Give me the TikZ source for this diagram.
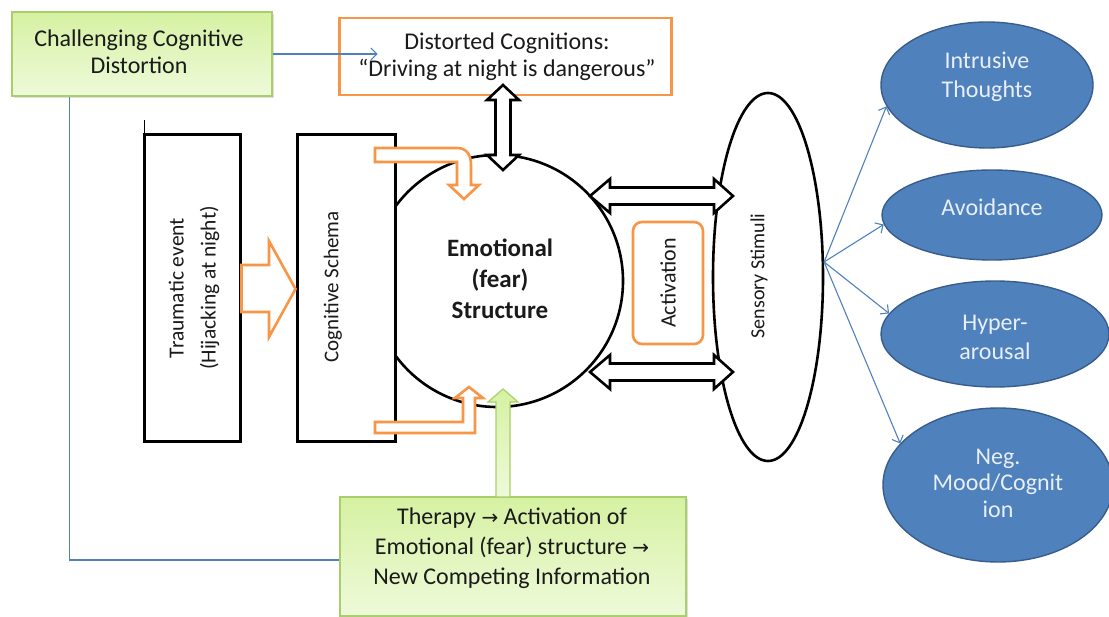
\documentclass[tikz,border=0pt]{standalone}
\usepackage{fontspec}
\setmainfont{Carlito}
\newfontfamily\djv{DejaVu Sans}
\usetikzlibrary{shapes.geometric,arrows.meta,shadows}
\definecolor{org}{HTML}{F79646}
\definecolor{bl}{HTML}{4F81BD}
\definecolor{bldark}{HTML}{385D8A}
\definecolor{gbord}{HTML}{A9CF6A}
\definecolor{gtop}{HTML}{D6F1A2}
\definecolor{gbot}{HTML}{EEFADA}
\definecolor{ink}{HTML}{1A1A1A}
\definecolor{lighttext}{HTML}{E8EFF8}
\newcommand{\rarr}{{\djv\fontsize{20}{20}\selectfont →}}
\begin{document}
\begin{tikzpicture}[x=1pt,y=-1pt,
  greenbox/.style={draw=gbord, line width=1.2pt, top color=gtop, bottom color=gbot,
    drop shadow={opacity=0.25,shadow xshift=2pt,shadow yshift=-2pt}, inner sep=0pt},
  orangebox/.style={draw=org, line width=2.8pt, fill=white, inner sep=0pt},
  blackbox/.style={draw=black, line width=3pt, fill=white, inner sep=0pt},
  txt/.style={text=ink, align=center, inner sep=0pt},
  barrow/.style={draw=black, line width=2.6pt, fill=white, line join=miter},
  oarrow/.style={draw=org, line width=2.6pt, fill=white, line join=miter},
  bline/.style={draw=bl, line width=1.1pt},
  btip/.style={-{Straight Barb[length=6pt,width=12pt]}},
  bell/.style={ellipse, draw=bldark, line width=1.4pt, fill=bl, inner sep=0pt},
  btext/.style={text=lighttext, align=center, inner sep=0pt, font=\fontsize{24}{29}\selectfont},
]
\useasboundingbox (0,0) rectangle (1109,617);

% emotional structure circle
\node[draw, circle, line width=2.6pt, fill=white, minimum size=252, inner sep=0pt] (ef) at (497,281) {};
% sensory stimuli ellipse
\node[draw, ellipse, line width=2.6pt, fill=white, minimum width=110, minimum height=368, inner sep=0pt] (ss) at (768,277) {};

% boxes
\node[greenbox, minimum width=260, minimum height=84] (ch) at (142,54) {};
\node[txt, font=\fontsize{24}{27}\selectfont] (cht) at (139,52) {Challenging Cognitive\\Distortion};

\node[orangebox, minimum width=332, minimum height=77] (dc) at (505.5,56.5) {};
\node[txt, font=\fontsize{24}{27}\selectfont] (dct) at (507,56.5) {Distorted Cognitions:\\“Driving at night is dangerous”};

\node[blackbox, minimum width=96, minimum height=307] (te) at (192,288.5) {};
\node[txt, rotate=90, font=\fontsize{21.5}{32}\selectfont] (tet) at (194,288) {Traumatic event\\(Hijacking at night)};
\draw[line width=1.6pt] ([xshift=2pt]te.north west) -- ++(0,-13);

\node[blackbox, minimum width=98, minimum height=307] (cs) at (346,288.5) {};
\node[txt, rotate=90, font=\fontsize{21}{25}\selectfont] (cst) at (333,287) {Cognitive Schema};

% therapy box
\node[greenbox, minimum width=346, minimum height=119] (th) at (513,556.5) {};
\node[txt, font=\fontsize{24}{30}\selectfont] (tht) at (512,548) {Therapy \rarr\ Activation of\\Emotional (fear) structure \rarr\\New Competing Information};

% blue connectors from the challenging box
\draw[bline, btip] (ch.east) -- ++(105,0) coordinate (chend);
\draw[bline] ([xshift=58pt]ch.south west) |- ([yshift=-3.5pt]th.west);

% traumatic -> schema orange block arrow
\draw[oarrow] (te.east |- 0,265) -- (269,265) -- (269,241) -- (cs.west |- 0,289) -- (269,337) -- (269,312) -- (te.east |- 0,312) -- cycle;

% bent orange arrows into the circle
\draw[oarrow] (375,148) -- (457,148) .. controls (466,148) and (471,154) .. (471,165) -- (471,185) -- (479,185) -- (464,199) -- (449,185) -- (457,185) -- (457,162) -- (375,162) -- cycle;
\draw[oarrow] (375,422) -- (463,422) -- (463,398) -- (455,398) -- (469,387) -- (483,398) -- (475,398) -- (475,433) -- (375,433) -- cycle;

% vertical double arrow to distorted cognitions
\draw[barrow] (503,85) -- (519,100) -- (510.5,100) -- (510.5,155) -- (519,155) -- (503,170) -- (487,155) -- (495.5,155) -- (495.5,100) -- (487,100) -- cycle;

% horizontal double arrows between circle and sensory stimuli
\draw[barrow] (590,196) -- (610,179) -- (610,187.5) -- (714,187.5) -- (714,179) -- (733,196) -- (714,213) -- (714,204.5) -- (610,204.5) -- (610,213) -- cycle;
\draw[barrow] (590,372) -- (610,355) -- (610,363.5) -- (714,363.5) -- (714,355) -- (733,372) -- (714,389) -- (714,380.5) -- (610,380.5) -- (610,389) -- cycle;

% activation
\node[draw=org, line width=2.6pt, rounded corners=9pt, fill=white, minimum width=70, minimum height=122, inner sep=0pt] (act) at (668,283) {};
\node[txt, rotate=90, font=\fontsize{22}{26}\selectfont] (actt) at (act) {Activation};

% text in circle and ellipse
\node[txt, font=\bfseries\fontsize{25}{31}\selectfont] (eft) at (500,279) {Emotional\\(fear)\\Structure};
\node[txt, rotate=90, font=\fontsize{20}{24}\selectfont] (sst) at (759,276) {Sensory Stimuli};

% green arrow from therapy
\draw[draw=gbord, line width=1.2pt, top color=gtop, bottom color=gbot] (503,389) -- (518,402) -- (510,402) -- (510,497) -- (496,497) -- (496,402) -- (488,402) -- cycle;

% symptom ellipses
\node[bell, minimum width=212, minimum height=126] (it) at (987,85) {};
\node[btext] (itt) at (987,77) {Intrusive\\Thoughts};
\node[bell, minimum width=220, minimum height=90] (av) at (992,215) {};
\node[btext] (avt) at (992,207) {Avoidance};
\node[bell, minimum width=228, minimum height=106] (hy) at (995,334) {};
\node[btext] (hyt) at (995,337) {Hyper-\\arousal};
\node[bell, minimum width=230, minimum height=154] (ng) at (998,485) {};
\node[btext, font=\fontsize{24}{26.5}\selectfont] (ngt) at (998,483) {Neg.\\Mood/Cognit\\ion};

% blue connectors from sensory stimuli
\coordinate (src) at (ss.15);
\draw[bline, btip] (src) -- (it.192);
\draw[bline, btip] (src) -- (av.185);
\draw[bline, btip] (src) -- (hy.169);
\draw[bline, btip] (src) -- (ng.157);
\end{tikzpicture}
\end{document}
